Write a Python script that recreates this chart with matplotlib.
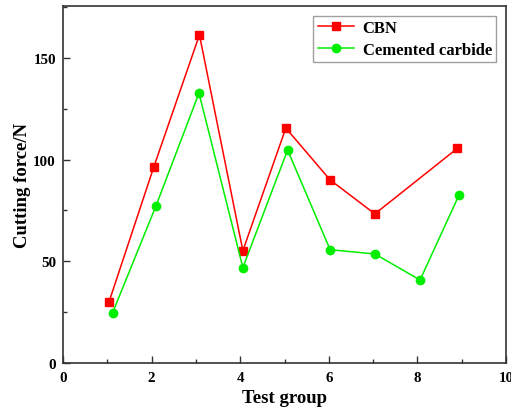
import matplotlib
matplotlib.use("Agg")
import matplotlib.pyplot as plt
from matplotlib.ticker import MultipleLocator

plt.rcParams['font.family'] = ['Liberation Serif', 'DejaVu Serif']
plt.rcParams['font.weight'] = 'bold'

cbn_x = [1.04, 2.05, 3.08, 4.06, 5.03, 6.03, 7.04, 8.9]
cbn_y = [30.1, 96.4, 161.3, 55.2, 115.5, 90.0, 73.3, 105.5]
carb_x = [1.12, 2.1, 3.07, 4.06, 5.07, 6.03, 7.04, 8.06, 8.94]
carb_y = [24.7, 77.3, 132.7, 46.9, 104.7, 55.7, 53.6, 40.8, 82.6]

fig = plt.figure(figsize=(5.11, 4.10), dpi=100)
ax = fig.add_axes([63/511, 1-364/410, (506-63)/511, (364-7)/410])

ax.plot(cbn_x, cbn_y, color='#ff0000', marker='s', markersize=5.5, linewidth=1.1, label='CBN')
ax.plot(carb_x, carb_y, color='#00ee00', marker='o', markersize=6, linewidth=1.1, label='Cemented carbide')

ax.set_xlim(0, 10)
ax.set_ylim(0, 175.5)
ax.xaxis.set_major_locator(MultipleLocator(2))
ax.xaxis.set_minor_locator(MultipleLocator(1))
ax.yaxis.set_major_locator(MultipleLocator(50))
ax.yaxis.set_minor_locator(MultipleLocator(25))
ax.tick_params(which='both', direction='in', width=1.0, color='#333333', labelsize=10.8)
ax.tick_params(which='major', length=5)
ax.tick_params(which='minor', length=3)
ax.tick_params(axis='x', pad=6)
ax.tick_params(axis='y', pad=5)
for lab in ax.get_xticklabels() + ax.get_yticklabels():
    lab.set_fontweight('bold')
for s in ax.spines.values():
    s.set_linewidth(1.2)
    s.set_color('#333333')

ax.set_xlabel('Test group', fontsize=13.5, fontweight='bold', labelpad=3.5)
ax.set_ylabel('Cutting force/N', fontsize=13.5, fontweight='bold', labelpad=2)

leg = ax.legend(loc='upper right', fontsize=12, frameon=True, fancybox=False,
                borderpad=0.25, handlelength=2.2, handletextpad=0.5, labelspacing=0.35,
                borderaxespad=0.6)
leg.get_frame().set_edgecolor('#888888')
leg.get_frame().set_linewidth(1.0)
for t in leg.get_texts():
    t.set_fontweight('bold')

fig.savefig('out.png', dpi=100)
